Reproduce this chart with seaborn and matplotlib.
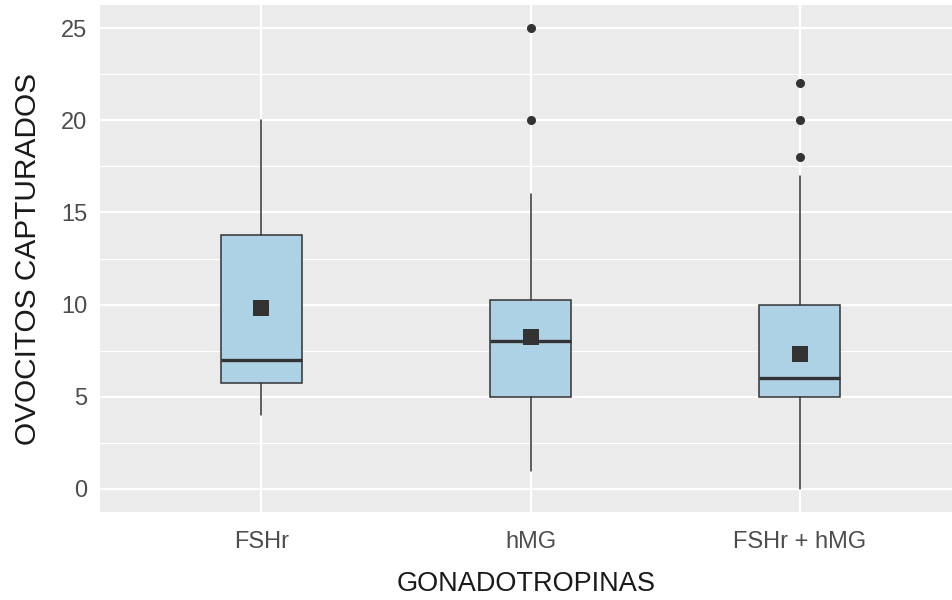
import numpy as np
import pandas as pd
import matplotlib
matplotlib.use("Agg")
import matplotlib.pyplot as plt
import seaborn as sns

# Values
groups = ["FSHr", "hMG", "FSHr + hMG"]
q1 = [5.75, 5.0, 5.0]
median = [7.0, 8.0, 6.0]
q3 = [13.75, 10.25, 10.0]
whisker_low = [4.0, 1.0, 0.0]
whisker_high = [20.0, 16.0, 17.0]
outliers = [[], [20.0, 25.0], [18.0, 20.0, 22.0]]
means = [9.8, 8.24, 7.33]

sns.set_theme(style="darkgrid")
plt.rcParams["font.family"] = ["Liberation Sans", "DejaVu Sans"]

fig = plt.figure(figsize=(9.53, 6.0), dpi=100)
ax = fig.add_axes([100 / 953, 88 / 600, 853 / 953, 507 / 600])
ax.set_facecolor("#EBEBEB")

stats = []
for i, g in enumerate(groups):
    stats.append({"label": g, "q1": q1[i], "med": median[i], "q3": q3[i],
                  "whislo": whisker_low[i], "whishi": whisker_high[i],
                  "fliers": outliers[i]})

positions = list(range(len(groups)))
edge = "#333333"
ax.bxp(stats, positions=positions, widths=0.3, patch_artist=True,
       showcaps=False, showfliers=True,
       boxprops=dict(facecolor="#ADD1E5", edgecolor=edge, linewidth=1.1),
       medianprops=dict(color=edge, linewidth=2.4, solid_capstyle="butt"),
       whiskerprops=dict(color=edge, linewidth=1.1),
       flierprops=dict(marker="o", markerfacecolor=edge, markeredgecolor=edge,
                       markersize=5.5))

# mean marker
mean_df = pd.DataFrame({"pos": positions, "mean": means})
sns.scatterplot(data=mean_df, x="pos", y="mean", marker="s", s=118,
                color=edge, edgecolor=edge, linewidth=0, ax=ax, zorder=5)

ax.set_xlim(-0.6, 2.57)
ax.set_ylim(-1.25, 26.25)
ax.set_xticks(positions)
ax.set_xticklabels(groups)
ax.set_yticks([0, 5, 10, 15, 20, 25])
ax.set_yticks(np.arange(2.5, 25, 5), minor=True)

ax.set_axisbelow(True)
ax.grid(which="major", color="white", linewidth=1.6)
ax.grid(which="minor", axis="y", color="white", linewidth=0.8)
ax.grid(which="minor", axis="x", visible=False)
for s in ax.spines.values():
    s.set_visible(False)

ax.tick_params(axis="both", which="major", length=5, width=1.1, color=edge,
               labelsize=17, labelcolor="#4D4D4D")
ax.tick_params(axis="x", which="major", pad=8.5)
ax.tick_params(axis="y", which="major", pad=4)
ax.tick_params(axis="y", which="minor", length=0)

ax.set_xlabel("GONADOTROPINAS", fontsize=19.5, color="#1A1A1A", labelpad=13)
ax.set_ylabel("OVOCITOS CAPTURADOS", fontsize=21.5, color="#1A1A1A", labelpad=13.5)

fig.savefig("out.png", dpi=100)
plt.close(fig)
